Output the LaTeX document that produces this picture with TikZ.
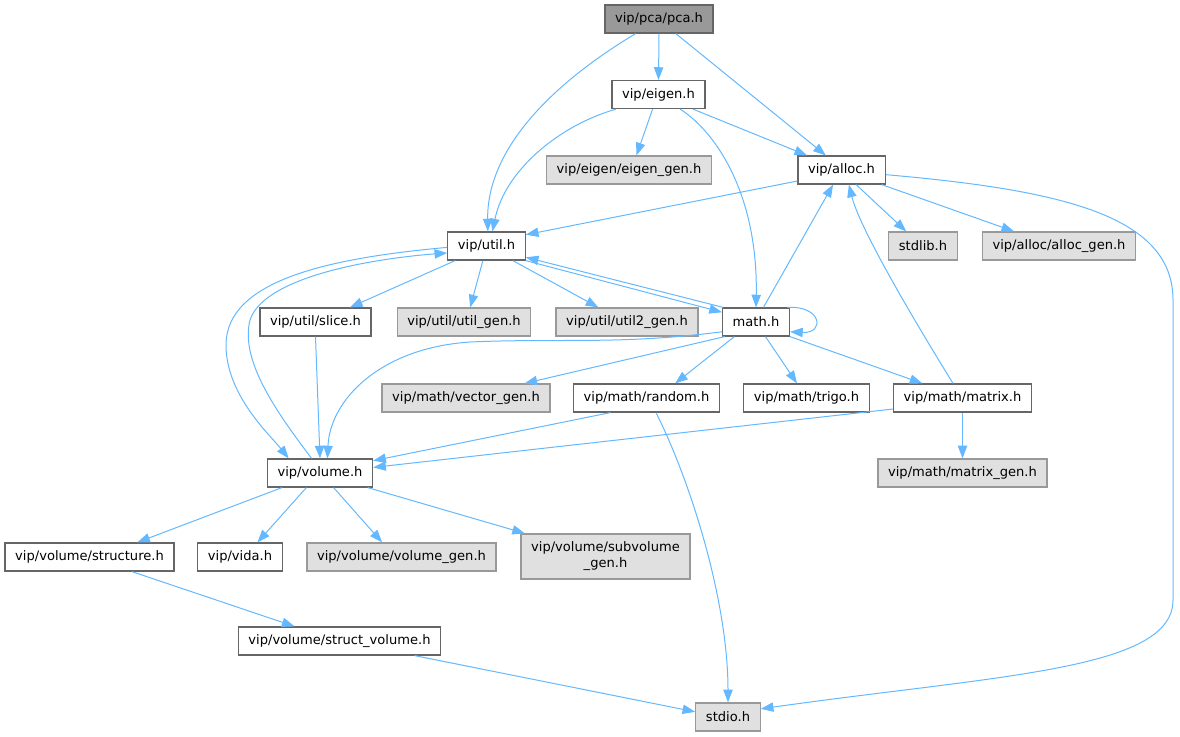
\documentclass[tikz,border=0pt]{standalone}
\usepackage{fontspec}
\setmainfont{DejaVu Sans}
\usepackage{tikz}
\usetikzlibrary{arrows.meta}
\definecolor{edgeblue}{HTML}{63B8FF}
\definecolor{rootgray}{HTML}{999999}
\definecolor{boxgray}{HTML}{E0E0E0}
\definecolor{linegray}{HTML}{666666}
\tikzstyle{file} = [draw=linegray, fill=white, line width=0.9pt, minimum height=21pt, inner xsep=7.6pt, inner ysep=2pt, font=\fontsize{9.8}{12}\selectfont]
\tikzstyle{sysfile} = [file, draw=rootgray, fill=boxgray]
\tikzstyle{rootfile} = [file, fill=rootgray]
\tikzstyle{arrow} = [line width=0.75pt, draw=edgeblue, ->, >={Stealth[length=9.5pt,width=7pt,inset=0pt]}]

\begin{document}
\begin{tikzpicture}[x=0.75pt,y=-0.75pt]
	\useasboundingbox (0,0) rectangle (1180,736);
	%files, one row per rank
	\node[rootfile] (pca) at (659,19) {vip/pca/pca.h};
	\node[file] (eigen) at (658.5,94.5) {vip/eigen.h};
	\node[sysfile] (eigengen) at (629,170) {vip/eigen/eigen\_gen.h};
	\node[file] (alloc) at (841.5,170) {vip/alloc.h};
	\node[file] (util) at (486.5,246) {vip/util.h};
	\node[sysfile] (stdlib) at (923,246) {stdlib.h};
	\node[sysfile] (allocgen) at (1059,246) {vip/alloc/alloc\_gen.h};
	\node[file] (slice) at (315.5,322) {vip/util/slice.h};
	\node[sysfile] (utilgen) at (464,322) {vip/util/util\_gen.h};
	\node[sysfile] (utiltwogen) at (627,322) {vip/util/util2\_gen.h};
	\node[file] (math) at (756,322) {math.h};
	\node[sysfile] (vectorgen) at (466,398) {vip/math/vector\_gen.h};
	\node[file] (random) at (646.5,398) {vip/math/random.h};
	\node[file] (trigo) at (806.5,398) {vip/math/trigo.h};
	\node[file] (matrix) at (962.5,398) {vip/math/matrix.h};
	\node[file] (volume) at (320,473) {vip/volume.h};
	\node[sysfile] (matrixgen) at (962.5,473) {vip/math/matrix\_gen.h};
	\node[file] (structure) at (89.5,557) {vip/volume/structure.h};
	\node[file] (vida) at (240,557) {vip/vida.h};
	\node[sysfile] (volumegen) at (401.5,557) {vip/volume/volume\_gen.h};
	\node[sysfile, align=center, minimum height=33.75pt] (subvolumegen) at (605.5,556.5) {vip/volume/subvolume\\\_gen.h};
	\node[file] (structvolume) at (339.5,641) {vip/volume/struct\_volume.h};
	\node[sysfile] (stdio) at (728,717) {stdio.h};
	
	%includes
	\draw[arrow] (pca.212) .. controls (550,85) and (487,150) .. (util.85);
	\draw[arrow] (pca.south) -- (eigen.north);
	\draw[arrow] (pca.319) -- (alloc.137);
	\draw[arrow] (eigen.199) .. controls (560,125) and (505,170) .. (util.68);
	\draw[arrow] (eigen.248) -- (eigengen.63);
	\draw[arrow] (eigen.326) .. controls (720,135) and (758,200) .. (math.north);
	\draw[arrow] (eigen.337) -- (alloc.157);
	\draw[arrow] (alloc.194) -- (util.16);
	\draw[arrow] (alloc.315) -- (stdlib.139);
	\draw[arrow] (alloc.340) -- (allocgen.162);
	\draw[arrow] (alloc.354) .. controls (1060,190) and (1173,215) .. (1173,300) -- (1173,600) .. controls (1173,670) and (1000,675) .. (stdio.14);
	\draw[arrow] (util.205) -- (slice.23);
	\draw[arrow] (util.256) -- (utilgen.67);
	\draw[arrow] (util.331) -- (utiltwogen.153);
	\draw[arrow] (util.south east) -- (math.164);
	\draw[arrow] (util.182) .. controls (330,258) and (226,280) .. (226,345) .. controls (226,395) and (270,435) .. (volume.155);
	\draw[arrow] (slice.south) -- (volume.north);
	\draw[arrow] (math.156) -- (util.344);
	\draw[arrow] (math.25) .. controls +(35,-2) and +(35,2) .. (math.344);
	\draw[arrow] (math.196) .. controls (620,345) and (560,338) .. (470,342) .. controls (380,348) and (330,400) .. (volume.63);
	\draw[arrow] (math.205) -- (vectorgen.14);
	\draw[arrow] (math.214) -- (random.27);
	\draw[arrow] (math.303) -- (trigo.123);
	\draw[arrow] (math.south east) -- (matrix.160);
	\draw[arrow] (math.63) -- (alloc.240);
	\draw[arrow] (random.202) -- (volume.13);
	\draw[arrow] (random.303) .. controls (690,480) and (728,600) .. (stdio.north);
	\draw[arrow] (matrix.123) .. controls (920,330) and (860,230) .. (alloc.297);
	\draw[arrow] (matrix.south) -- (matrixgen.north);
	\draw[arrow] (matrix.189) -- (volume.6);
	\draw[arrow] (volume.120) .. controls (275,410) and (240,360) .. (250,320) .. controls (265,275) and (380,258) .. (util.190);
	\draw[arrow] (volume.201) -- (structure.17);
	\draw[arrow] (volume.227) -- (vida.40);
	\draw[arrow] (volume.313) -- (volumegen.143);
	\draw[arrow] (volume.343) -- (subvolumegen.164);
	\draw[arrow] (structure.341) -- (structvolume.162);
	\draw[arrow] (structvolume.349) -- (stdio.171);
\end{tikzpicture}
\end{document}
